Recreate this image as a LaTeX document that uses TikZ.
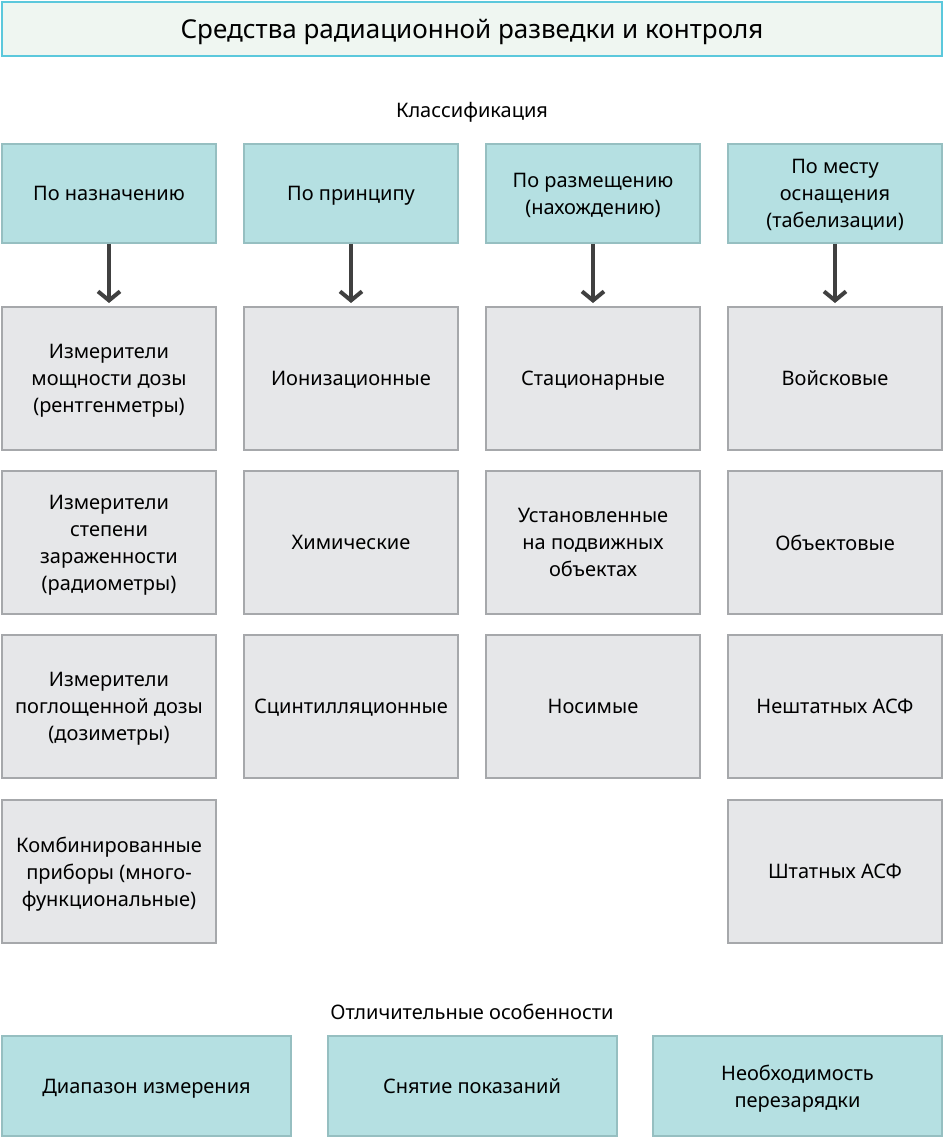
\documentclass[tikz,border=0pt]{standalone}
\usepackage{fontspec}
\setmainfont{Noto Sans}
\usepackage{tikz}
\usetikzlibrary{positioning}
\usetikzlibrary{arrows.meta}
\definecolor{titlefill}{HTML}{EFF6F1}
\definecolor{titleline}{HTML}{5BC8DC}
\definecolor{tealfill}{HTML}{B5E0E2}
\definecolor{tealline}{HTML}{96BFC1}
\definecolor{greyfill}{HTML}{E6E7E9}
\definecolor{greyline}{HTML}{A6A8AB}
\definecolor{arrowgrey}{HTML}{404040}
\tikzset{every picture/.style={line width=2pt},
  every node/.style={font=\fontsize{20}{27}\selectfont, align=center, inner sep=0pt, text depth=-4pt},
  titlebox/.style={draw=titleline, fill=titlefill, minimum width=940pt, minimum height=54pt, font=\fontsize{26}{30}\selectfont, text depth=-6pt},
  head/.style={draw=tealline, fill=tealfill, minimum width=214pt, minimum height=99pt},
  item/.style={draw=greyline, fill=greyfill, minimum width=214pt, minimum height=143pt},
  feature/.style={draw=tealline, fill=tealfill, minimum width=289pt, minimum height=100pt},
  down/.style={draw=arrowgrey, line width=4pt, -{Straight Barb[length=9pt, width=22pt, line width=4pt]}, shorten >=3pt}}

\begin{document}
\begin{tikzpicture}[x=1pt, y=1pt]
\useasboundingbox (0,0) rectangle (945,-1139);
\node (title) at (472,-29) [titlebox] {Средства радиационной разведки и контроля};
\node (cls) at (472,-110) {Классификация};

% classification headers
\node (p1) at (109,-193.5) [head] {По назначению};
\node (p2) [head, right of=p1, node distance=242pt] {По принципу};
\node (p3) [head, right of=p2, node distance=242pt] {По размещению\\(нахождению)};
\node (p4) [head, right of=p3, node distance=242pt] {По месту\\оснащения\\(табелизации)};

% column 1
\node (a1) at (109,-378.5) [item] {Измерители\\мощности дозы\\(рентгенметры)};
\node (a2) [item, below of=a1, node distance=164pt] {Измерители\\степени\\зараженности\\(радиометры)};
\node (a3) [item, below of=a2, node distance=164pt] {Измерители\\поглощенной дозы\\(дозиметры)};
\node (a4) [item, below of=a3, node distance=165pt] {Комбинированные\\приборы (много-\\функциональные)};

% column 2
\node (b1) [item, right of=a1, node distance=242pt] {Ионизационные};
\node (b2) [item, below of=b1, node distance=164pt] {Химические};
\node (b3) [item, below of=b2, node distance=164pt] {Сцинтилляционные};

% column 3
\node (c1) [item, right of=b1, node distance=242pt] {Стационарные};
\node (c2) [item, below of=c1, node distance=164pt] {Установленные\\на подвижных\\объектах};
\node (c3) [item, below of=c2, node distance=164pt] {Носимые};

% column 4
\node (d1) [item, right of=c1, node distance=242pt] {Войсковые};
\node (d2) [item, below of=d1, node distance=164pt] {Объектовые};
\node (d3) [item, below of=d2, node distance=164pt] {Нештатных АСФ};
\node (d4) [item, below of=d3, node distance=165pt] {Штатных АСФ};

\draw[down] (p1) -- (a1);
\draw[down] (p2) -- (b1);
\draw[down] (p3) -- (c1);
\draw[down] (p4) -- (d1);

% features
\node (feat) at (472,-1012) {Отличительные особенности};
\node (f1) at (146.5,-1086) [feature] {Диапазон измерения};
\node (f2) [feature, right of=f1, node distance=325.5pt] {Снятие показаний};
\node (f3) [feature, right of=f2, node distance=325.5pt] {Необходимость\\перезарядки};
\end{tikzpicture}
\end{document}
